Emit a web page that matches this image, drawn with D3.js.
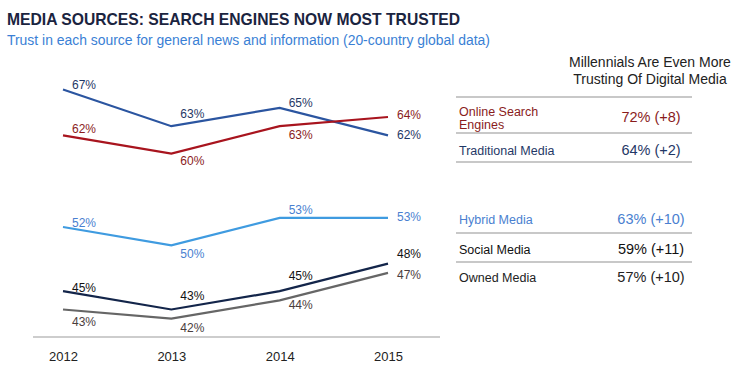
<!DOCTYPE html>
<html>
<head>
<meta charset="utf-8">
<script src="https://cdn.jsdelivr.net/npm/d3@7"></script>
<style>
  body { margin: 0; background: #fff; }
  svg { font-family: "Liberation Sans", Arial, sans-serif; }
</style>
</head>
<body>
<div id="chart"></div>
<script>
// data
const years = ['2012', '2013', '2014', '2015'];
const traditional = [67, 63, 65, 62];
const searchEngines = [62, 60, 63, 64];
const hybrid = [52, 50, 53, 53];
const social = [45, 43, 45, 48];
const owned = [43, 42, 44, 47];

const tableCategories = ['Online Search Engines', 'Traditional Media', 'Hybrid Media', 'Social Media', 'Owned Media'];
const millennialValues = [72, 64, 63, 59, 57];
const millennialChange = [8, 2, 10, 11, 10];

const width = 741, height = 371;

const svg = d3.select('#chart').append('svg')
  .attr('width', width)
  .attr('height', height);

// titles
svg.append('text')
  .attr('x', 7).attr('y', 25)
  .attr('font-size', 17).attr('font-weight', 'bold')
  .attr('fill', '#1b2440')
  .attr('textLength', 453).attr('lengthAdjust', 'spacingAndGlyphs')
  .text('MEDIA SOURCES: SEARCH ENGINES NOW MOST TRUSTED');

svg.append('text')
  .attr('x', 7).attr('y', 45)
  .attr('font-size', 14)
  .attr('fill', '#3a7fd5')
  .attr('textLength', 483).attr('lengthAdjust', 'spacingAndGlyphs')
  .text('Trust in each source for general news and information (20-country global data)');

// scales
const x = d3.scalePoint().domain(years).range([63, 388]);
const y = d3.scaleLinear().domain([40, 70]).range([337, 62]);

// axis
svg.append('line')
  .attr('x1', 33).attr('x2', 440)
  .attr('y1', y(40)).attr('y2', y(40))
  .attr('stroke', '#bdbdbd').attr('stroke-width', 1.5);

const xAxis = svg.append('g')
  .attr('transform', `translate(0, ${y(40) + 12})`)
  .call(d3.axisBottom(x).tickSize(0));
xAxis.select('.domain').remove();
xAxis.selectAll('text')
  .attr('font-size', 13)
  .attr('font-family', '"Liberation Sans", Arial, sans-serif')
  .attr('fill', '#222');

// series, label offsets are baseline shifts relative to each point
const series = [
  { values: traditional, line: '#2b55a0', text: '#1f3866', dy: [-1, -8, -1, 4] },
  { values: searchEngines, line: '#a8141e', text: '#8a1c1c', dy: [-2, 11, 13, 2] },
  { values: hybrid, line: '#3f9be0', text: '#4a7fd0', dy: [0, 13, -4, 3] },
  { values: social, line: '#13254a', text: '#111', dy: [1, -10, -11, -6] },
  { values: owned, line: '#666', text: '#4a3d3d', dy: [16, 13, 9, 6] }
];

const line = d3.line()
  .x((d, i) => x(years[i]))
  .y(d => y(d));

series.forEach(s => {
  svg.append('path')
    .datum(s.values)
    .attr('d', line)
    .attr('fill', 'none')
    .attr('stroke', s.line)
    .attr('stroke-width', 2.2);

  svg.append('g').selectAll('text')
    .data(s.values)
    .join('text')
    .attr('x', (d, i) => x(years[i]) + 9)
    .attr('y', (d, i) => y(d) + s.dy[i])
    .attr('font-size', 12)
    .attr('fill', s.text)
    .text(d => d + '%');
});

// table on the right
const tableColors = ['#8a1c1c', '#1f3866', '#4a7fd0', '#111', '#222'];
const rowY = [122, 155, 224, 254, 282];
const ruleY = [97, 133, 162, 233, 262];

svg.append('text')
  .attr('x', 650).attr('y', 67)
  .attr('text-anchor', 'middle').attr('font-size', 14).attr('fill', '#222')
  .text('Millennials Are Even More');
svg.append('text')
  .attr('x', 650).attr('y', 84)
  .attr('text-anchor', 'middle').attr('font-size', 14).attr('fill', '#222')
  .text('Trusting Of Digital Media');

svg.selectAll('.rule')
  .data(ruleY)
  .join('line')
  .attr('class', 'rule')
  .attr('x1', 456).attr('x2', 692)
  .attr('y1', d => d).attr('y2', d => d)
  .attr('stroke', '#c8c8c8').attr('stroke-width', 2);

tableCategories.forEach((c, i) => {
  const t = svg.append('text')
    .attr('x', 459)
    .attr('font-size', 12.5)
    .attr('fill', tableColors[i]);
  // wrap long labels onto two lines
  const words = c.split(' ');
  const trial = t.text(c);
  if (trial.node().getComputedTextLength() > 110) {
    t.text(null);
    t.append('tspan').attr('x', 459).attr('y', rowY[i] - 6).text(words.slice(0, -1).join(' '));
    t.append('tspan').attr('x', 459).attr('y', rowY[i] + 7).text(words[words.length - 1]);
  } else {
    t.attr('y', rowY[i]);
  }

  svg.append('text')
    .attr('x', 651).attr('y', rowY[i])
    .attr('text-anchor', 'middle')
    .attr('font-size', 14.5)
    .attr('fill', tableColors[i])
    .text(`${millennialValues[i]}% (+${millennialChange[i]})`);
});
</script>
</body>
</html>
